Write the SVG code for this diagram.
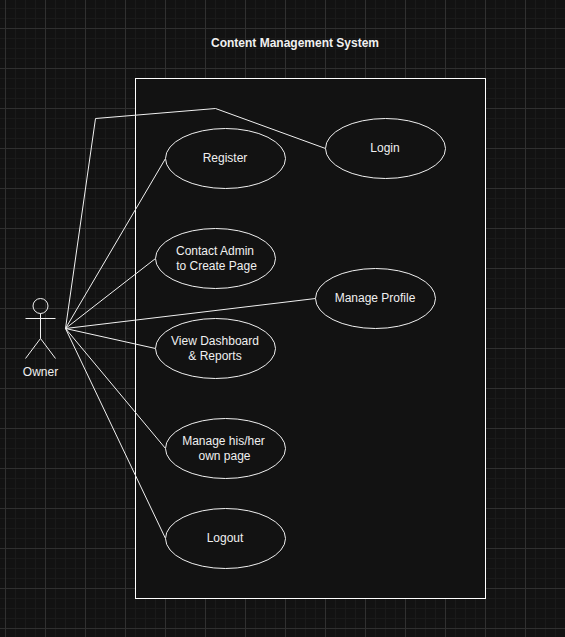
<svg xmlns="http://www.w3.org/2000/svg" width="565" height="637" viewBox="0 0 565 637">
<style>
.e{fill:#121212;stroke:#f0f0f0;stroke-width:1}
.l{fill:none;stroke:#f0f0f0;stroke-width:1}
text{font-family:"Liberation Sans",Arial,sans-serif;font-size:12px;fill:#f0f0f0;text-anchor:middle}
</style>
<defs>
<pattern id="grid" width="40" height="40" patternUnits="userSpaceOnUse" x="5" y="28">
<path d="M10.5 0V40M20.5 0V40M30.5 0V40M0 10.5H40M0 20.5H40M0 30.5H40" fill="none" stroke="#1a1a1a" stroke-width="1"/>
<path d="M0.5 0V40M0 0.5H40" fill="none" stroke="#303030" stroke-width="1"/>
</pattern>
</defs>
<rect width="565" height="637" fill="#121212"/>
<rect width="565" height="637" fill="url(#grid)"/>
<g id="title"><text x="295" y="47" font-weight="bold">Content Management System</text></g>
<g id="system"><rect x="135.500" y="78.500" width="350" height="520" fill="#121212" stroke="#fff" stroke-width="1"/></g>
<g id="connectors" class="l">
<path d="M65.500 328.500L95.500 118.500L215.500 108.500L325.500 148.500"/>
<path d="M65.500 328.500L165.500 158.500"/>
<path d="M65.500 328.500L155.500 258.500"/>
<path d="M65.500 328.500L315.500 298.500"/>
<path d="M65.500 328.500L155.500 348.500"/>
<path d="M65.500 328.500L165.500 448.500"/>
<path d="M65.500 328.500L165.500 538.500"/>
</g>
<g id="owner">
<g class="l"><circle cx="40.500" cy="306" r="7.500"/><path d="M40.500 313.500V338.500M25.500 318.500H55.500M25.500 358.500L40.500 338.500L55.500 358.500"/></g>
<text x="40.500" y="376">Owner</text>
</g>
<g id="login"><ellipse class="e" cx="385.500" cy="148.500" rx="60" ry="30"/><text x="385" y="152">Login</text></g>
<g id="register"><ellipse class="e" cx="225.500" cy="158.500" rx="60" ry="30"/><text x="225" y="162">Register</text></g>
<g id="contact"><ellipse class="e" cx="215.500" cy="258.500" rx="60" ry="30"/><text x="215" y="255">Contact Admin</text><text x="216.500" y="270">to Create Page</text></g>
<g id="profile"><ellipse class="e" cx="375.500" cy="298.500" rx="60" ry="30"/><text x="375" y="302">Manage Profile</text></g>
<g id="dashboard"><ellipse class="e" cx="215.500" cy="348.500" rx="60" ry="30"/><text x="215" y="345">View Dashboard</text><text x="215" y="360">&amp; Reports</text></g>
<g id="page"><ellipse class="e" cx="225.500" cy="448.500" rx="60" ry="30"/><text x="223.500" y="445">Manage his/her</text><text x="224.500" y="460">own page</text></g>
<g id="logout"><ellipse class="e" cx="225.500" cy="538.500" rx="60" ry="30"/><text x="225" y="542">Logout</text></g>
</svg>
